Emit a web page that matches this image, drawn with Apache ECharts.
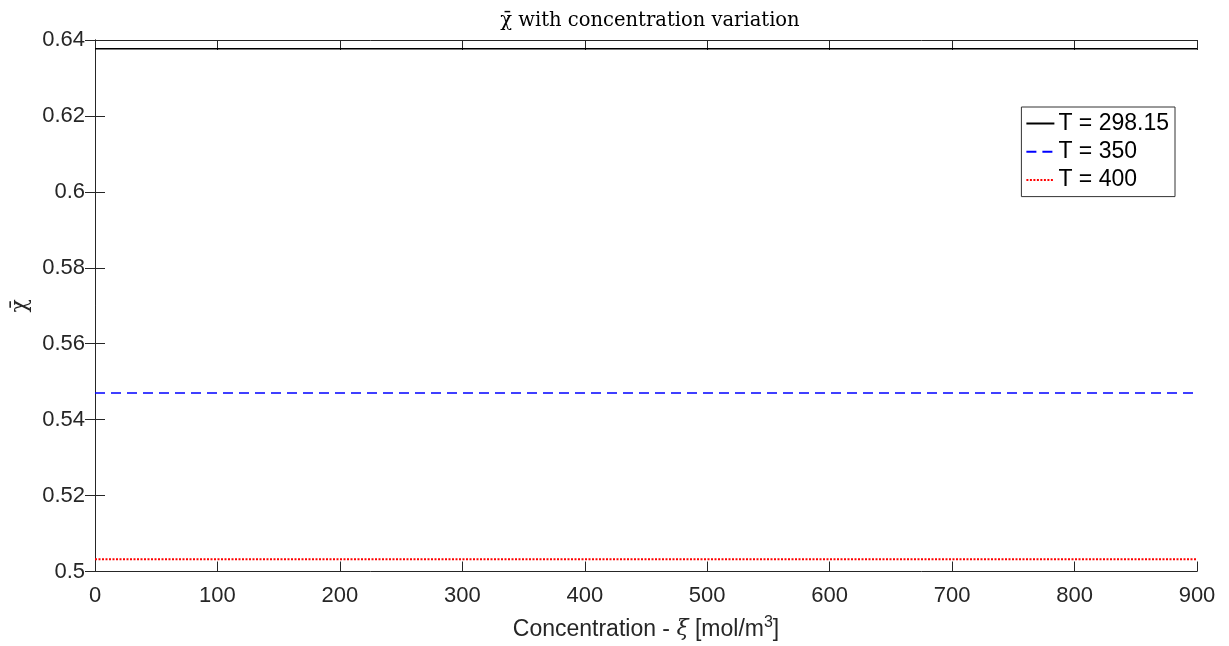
<!DOCTYPE html>
<html>
<head>
<meta charset="utf-8">
<script src="https://cdn.jsdelivr.net/npm/echarts@6/dist/echarts.min.js"></script>
<style>html,body{margin:0;padding:0;background:#fff;}#c{width:1229px;height:646px;}</style>
</head>
<body>
<div id="c"></div>
<script>
var concentration = [0, 100, 200, 300, 400, 500, 600, 700, 800, 900];
var chiT298 = [0.6377, 0.6377, 0.6377, 0.6377, 0.6377, 0.6377, 0.6377, 0.6377, 0.6377, 0.6377];
var chiT350 = [0.5470, 0.5470, 0.5470, 0.5470, 0.5470, 0.5470, 0.5470, 0.5470, 0.5470, 0.5470];
var chiT400 = [0.5032, 0.5032, 0.5032, 0.5032, 0.5032, 0.5032, 0.5032, 0.5032, 0.5032, 0.5032];
var seriesNames = ['T = 298.15', 'T = 350', 'T = 400'];

function pairs(ys) { return concentration.map(function (x, i) { return [x, ys[i]]; }); }

var axisColor = '#262626';
var fontSans = 'Liberation Sans, Arial, Helvetica, sans-serif';
var fontSerif = 'DejaVu Serif, Liberation Serif, serif';
var chart = echarts.init(document.getElementById('c'), null, {renderer: 'canvas'});
var baseX = {
  type: 'value', min: 0, max: 900, interval: 100,
  axisLine: {show: true, lineStyle: {color: axisColor, width: 1}},
  axisTick: {show: true, inside: true, length: 10, lineStyle: {color: axisColor}},
  splitLine: {show: false}
};
var baseY = {
  type: 'value', min: 0.5, max: 0.64, interval: 0.02,
  axisLine: {show: true, lineStyle: {color: axisColor, width: 1}},
  axisTick: {show: true, inside: true, length: 10, lineStyle: {color: axisColor}},
  splitLine: {show: false}
};
chart.setOption({
  animation: false,
  backgroundColor: '#fff',
  title: {
    text: 'χ\u0304 with concentration variation',
    left: 645, textAlign: 'center', top: 6,
    textStyle: {fontFamily: fontSerif, fontWeight: 'normal', fontSize: 19.5, color: '#000'}
  },
  grid: {left: 95, right: 32, top: 40, bottom: 74, containLabel: false},
  legend: {
    orient: 'vertical', right: 54, top: 107,
    data: seriesNames,
    backgroundColor: '#fff', borderColor: '#333', borderWidth: 1,
    padding: [5, 6, 5, 4], itemGap: 5.3, itemWidth: 28, itemHeight: 14,
    itemStyle: {opacity: 0},
    textStyle: {fontFamily: fontSans, fontSize: 23, lineHeight: 23, color: '#000', padding: [0, 0, 0, -1]}
  },
  xAxis: [
    Object.assign({}, baseX, {
      position: 'bottom',
      name: '{a|Concentration - }{xi|ξ}{a| [mol/m}{sup|3}{a|]}', nameLocation: 'middle', nameGap: 43,
      nameTextStyle: {
        rich: {
          a: {fontFamily: fontSans, fontSize: 23, color: axisColor},
          xi: {fontFamily: fontSerif, fontStyle: 'italic', fontSize: 22, color: axisColor},
          sup: {fontFamily: fontSans, fontSize: 16, color: axisColor, padding: [0, 0, 14, 0]}
        }
      },
      axisLabel: {fontFamily: fontSans, fontSize: 22, color: axisColor, margin: 13}
    }),
    Object.assign({}, baseX, {position: 'top', axisLabel: {show: false}})
  ],
  yAxis: [
    Object.assign({}, baseY, {
      position: 'left',
      name: 'χ\u0304', nameLocation: 'middle', nameGap: 60, nameRotate: 90,
      nameTextStyle: {fontFamily: fontSerif, fontSize: 22, color: axisColor},
      axisLabel: {fontFamily: fontSans, fontSize: 22, color: axisColor, margin: 10,
        formatter: function (v) { return String(parseFloat(v.toFixed(2))); }}
    }),
    Object.assign({}, baseY, {position: 'right', axisLabel: {show: false}})
  ],
  series: [
    {name: seriesNames[0], type: 'line', data: pairs(chiT298), symbol: 'none', color: '#000000',
      lineStyle: {color: '#000000', width: 1.5, type: 'solid'}},
    {name: seriesNames[1], type: 'line', data: pairs(chiT350), symbol: 'none', color: '#0000ff',
      lineStyle: {color: '#0000ff', width: 1.5, type: [10, 6]}},
    {name: seriesNames[2], type: 'line', data: pairs(chiT400), symbol: 'none', color: '#ff0000',
      lineStyle: {color: '#ff0000', width: 2, type: [2, 1.5]}}
  ]
});
</script>
</body>
</html>
